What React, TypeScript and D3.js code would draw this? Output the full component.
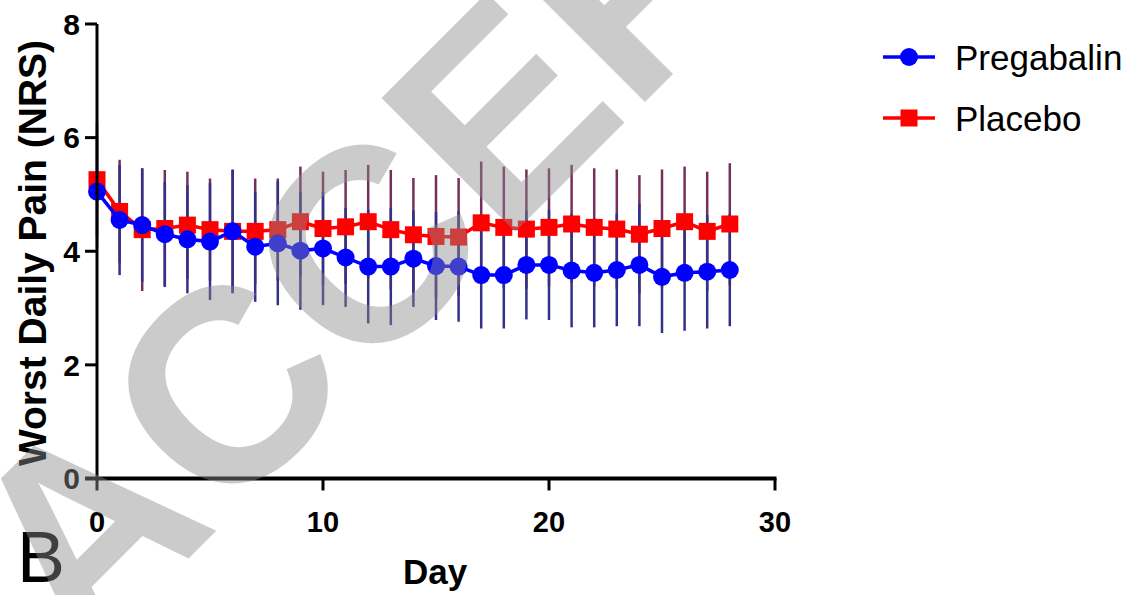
import React from "react";
import * as d3 from "d3";

const days = d3.range(0, 29);
const pregabalinMean = [5.05, 4.55, 4.46, 4.3, 4.21, 4.17, 4.35, 4.08, 4.14, 4.01, 4.05, 3.89, 3.73, 3.73, 3.87, 3.74, 3.73, 3.58, 3.58, 3.76, 3.76, 3.66, 3.62, 3.67, 3.76, 3.55, 3.62, 3.64, 3.67];
const pregabalinSD = [1.0, 0.97, 1.0, 0.92, 0.95, 1.03, 1.09, 0.97, 1.09, 1.04, 1.0, 0.87, 1.0, 1.03, 0.85, 0.95, 0.97, 0.94, 0.94, 0.96, 0.97, 1.0, 0.96, 0.99, 1.08, 0.99, 1.02, 1.0, 0.99];
const placeboMean = [5.26, 4.7, 4.38, 4.4, 4.46, 4.38, 4.35, 4.35, 4.38, 4.52, 4.4, 4.43, 4.52, 4.38, 4.29, 4.26, 4.25, 4.5, 4.42, 4.39, 4.42, 4.48, 4.42, 4.39, 4.3, 4.4, 4.52, 4.35, 4.48];
const placeboSD = [1.0, 0.91, 1.08, 1.03, 0.94, 0.9, 1.08, 0.93, 0.9, 0.97, 1.0, 1.0, 1.0, 1.05, 1.0, 1.08, 1.04, 1.08, 1.07, 1.05, 1.04, 1.04, 1.04, 1.05, 1.04, 1.04, 0.97, 1.05, 1.07];
const xTicks = [0, 10, 20, 30];
const yTicks = [0, 2, 4, 6, 8];
const legendLabels = ["Pregabalin", "Placebo"];

const FONT = "'Liberation Sans', Arial, Helvetica, sans-serif";

export default function App() {
  const x = d3.scaleLinear().domain([0, 30]).range([97, 775]);
  const y = d3.scaleLinear().domain([0, 8]).range([478.5, 24]);
  const line = d3
    .line<number>()
    .x((_, i) => x(days[i]))
    .y((d) => y(d));

  const blue = "#0000ff";
  const red = "#ff0000";
  const sq = 17;

  return (
    <svg
      width={1141}
      height={595}
      style={{ position: "absolute", left: 0, top: 0, background: "#fff" }}
      fontFamily={FONT}
    >
      <rect x={0} y={0} width={1141} height={595} fill="#fff" />
      {/* error bars */}
      {placeboMean.map((m, i) => (
        <line
          key={"pe" + i}
          x1={x(days[i])}
          x2={x(days[i])}
          y1={y(m - placeboSD[i])}
          y2={y(m + placeboSD[i])}
          stroke="#74305a"
          strokeWidth={2.5}
        />
      ))}
      {pregabalinMean.map((m, i) => (
        <line
          key={"be" + i}
          x1={x(days[i])}
          x2={x(days[i])}
          y1={y(m - pregabalinSD[i])}
          y2={y(m + pregabalinSD[i])}
          stroke="#33308a"
          strokeWidth={2.5}
        />
      ))}
      {/* placebo */}
      <path d={line(placeboMean) || ""} fill="none" stroke={red} strokeWidth={3.5} />
      {placeboMean.map((m, i) => (
        <rect key={"ps" + i} x={x(days[i]) - sq / 2} y={y(m) - sq / 2} width={sq} height={sq} fill={red} />
      ))}
      {/* pregabalin */}
      <path d={line(pregabalinMean) || ""} fill="none" stroke={blue} strokeWidth={3.5} />
      {pregabalinMean.map((m, i) => (
        <circle key={"bc" + i} cx={x(days[i])} cy={y(m)} r={9} fill={blue} />
      ))}

      {/* axes */}
      <line x1={x(0)} x2={x(0)} y1={y(8)} y2={y(0)} stroke="#000" strokeWidth={3} />
      <line x1={x(0) - 12} x2={x(30) + 1.5} y1={y(0)} y2={y(0)} stroke="#000" strokeWidth={4} />
      {yTicks.map((t) => (
        <g key={"yt" + t}>
          <line x1={x(0) - 12} x2={x(0)} y1={y(t)} y2={y(t)} stroke="#000" strokeWidth={3} />
          <text
            x={x(0) - 17}
            y={y(t)}
            dy="0.36em"
            textAnchor="end"
            fontSize={30}
            fontWeight="bold"
          >
            {t}
          </text>
        </g>
      ))}
      {xTicks.map((t) => (
        <g key={"xt" + t}>
          <line x1={x(t)} x2={x(t)} y1={y(0)} y2={y(0) + 12} stroke="#000" strokeWidth={3} />
          <text x={x(t)} y={532} textAnchor="middle" fontSize={29} fontWeight="bold">
            {t}
          </text>
        </g>
      ))}
      <text
        transform={`translate(46, ${253}) rotate(-90)`}
        textAnchor="middle"
        fontSize={39}
        fontWeight="bold"
      >
        Worst Daily Pain (NRS)
      </text>
      <text x={435} y={584} textAnchor="middle" fontSize={35} fontWeight="bold">
        Day
      </text>
      <text x={17} y={582} fontSize={72}>
        B
      </text>

      {/* legend */}
      <g>
        <line x1={883} x2={935} y1={57} y2={57} stroke={blue} strokeWidth={3.5} />
        <circle cx={909} cy={57} r={9} fill={blue} />
        <text x={955} y={57} dy="0.36em" fontSize={35}>
          {legendLabels[0]}
        </text>
        <line x1={883} x2={935} y1={118} y2={118} stroke={red} strokeWidth={3.5} />
        <rect x={909 - sq / 2} y={118 - sq / 2} width={sq} height={sq} fill={red} />
        <text x={955} y={118} dy="0.36em" fontSize={35}>
          {legendLabels[1]}
        </text>
      </g>

      {/* watermark */}
      <text
        transform="translate(81, 666) rotate(-45)"
        fontSize={275}
        fontWeight="bold"
        fill="#8c8c8c"
        fillOpacity={0.45}
      >
        ACCEPTED
      </text>
    </svg>
  );
}
